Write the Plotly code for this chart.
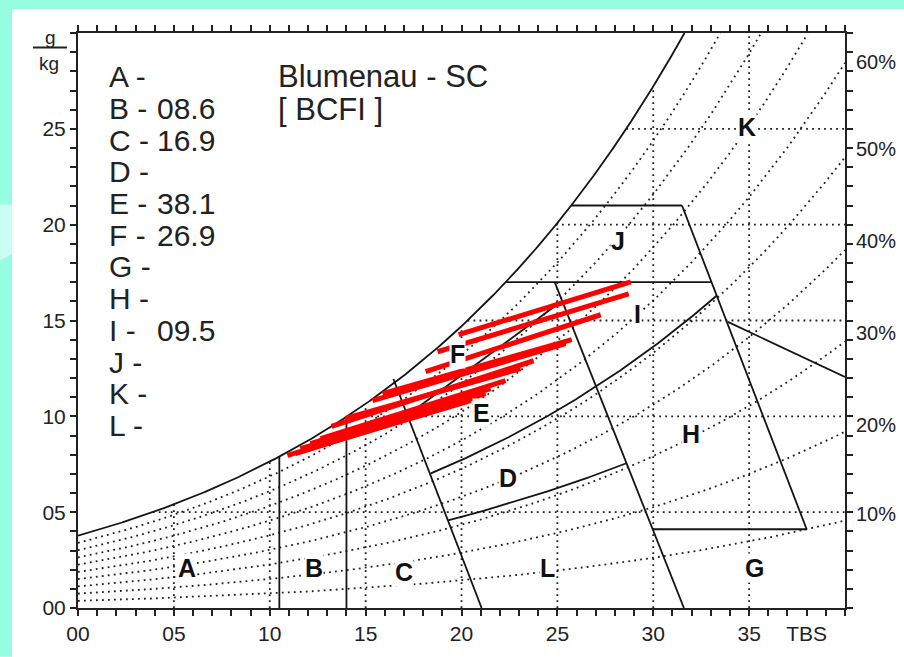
import numpy as np
import plotly.graph_objects as go

# ---------------- data ----------------
# saturation vapour pressure table (kPa) at 0..40 degC (psychrometric frame)
t_table = list(range(0, 41))
ps_table = [0.6112, 0.6571, 0.7060, 0.7581, 0.8135, 0.8725, 0.9353, 1.0021, 1.0730, 1.1482,
            1.2282, 1.3129, 1.4028, 1.4981, 1.5989, 1.7057, 1.8188, 1.9383, 2.0647, 2.1982,
            2.3392, 2.4881, 2.6452, 2.8109, 2.9856, 3.1697, 3.3637, 3.5679, 3.7828, 4.0089,
            4.2467, 4.4966, 4.7592, 5.0351, 5.3247, 5.6287, 5.9475, 6.2818, 6.6324, 6.9997,
            7.3844]
rh_curves = [0.1, 0.2, 0.3, 0.4, 0.5, 0.6, 0.7, 0.8, 0.9]
rh_labels = ["10%", "20%", "30%", "40%", "50%", "60%"]
rh_label_y = [4.89, 9.57, 14.36, 19.16, 23.93, 28.49]

x_tick_vals = list(range(0, 41))
x_tick_text = {0: "00", 5: "05", 10: "10", 15: "15", 20: "20", 25: "25", 30: "30", 35: "35", 38: "TBS"}
y_tick_vals = list(range(0, 31))
y_tick_text = {0: "00", 5: "05", 10: "10", 15: "15", 20: "20", 25: "25"}

# monthly red lines (TBS degC, humidity g/kg)
line_t0 = [19.85, 18.75, 18.13, 15.88, 15.36, 13.22, 13.95, 12.12, 11.60, 10.92, 11.34, 12.65]
line_w0 = [14.26, 13.37, 12.33, 11.19, 10.82, 9.47, 9.89, 8.58, 8.32, 7.96, 8.06, 8.84]
line_t1 = [28.83, 28.72, 27.26, 25.75, 25.43, 23.76, 23.08, 21.52, 21.26, 20.48, 20.89, 22.30]
line_w1 = [17.01, 16.39, 15.30, 14.00, 13.79, 12.90, 12.49, 11.45, 11.19, 10.82, 11.03, 11.86]

zone_letters = ["A", "B", "C", "D", "E", "F", "G", "H", "I", "J", "K", "L"]
zone_pct = ["", "08.6", "16.9", "", "38.1", "26.9", "", "", "09.5", "", "", ""]
zone_lx = [5.70, 12.33, 16.98, 22.41, 21.05, 19.80, 35.30, 31.96, 29.19, 28.15, 34.88, 24.50]
zone_ly = [2.08, 2.08, 1.87, 6.79, 10.20, 13.27, 2.08, 9.10, 15.35, 19.15, 25.08, 2.08]

# zone boundary geometry (degC, g/kg)
ab_t, bc_t = 10.5, 14.0
line4 = [(21.05, 0.0), (16.45, 11.95)]
line9 = [(31.60, 0.0), (24.86, 17.0)]
line8 = [(31.50, 21.0), (38.00, 4.11)]
j_bottom_w, j_top_w = 17.0, 21.0
kh_line = [(33.89, 14.93), (40.0, 12.05)]
g_top_w = 4.11
ef_line = [(17.17, 10.06), (25.27, 16.04)]
de_rh_t, de_rh_v = [18.4, 33.3], [0.534, 0.505]
dl_rh_t, dl_rh_v = [19.4, 28.7], [0.33, 0.31]

title_lines = ["Blumenau - SC", "[ BCFI ]"]

# ---------------- helpers ----------------
P = 101.325
T = np.linspace(0, 40, 801)
PS = np.interp(T, t_table, ps_table)


def w_of(rh):
    pv = rh * PS
    return 622.0 * pv / (P - pv)


WS = w_of(1.0)


def t_sat(w):
    return float(np.interp(w, WS, T))


def lin_t(line, w):
    (ta, wa), (tb, wb) = line
    return ta + (tb - ta) * (w - wa) / (wb - wa)


BLACK = "#141414"
DOT = dict(color="#1e1e1e", width=1.8, dash="1.8px,4.2px")
SOLID = dict(color=BLACK, width=1.8)

fig = go.Figure()


def add(xs, ys, line):
    fig.add_trace(go.Scatter(x=list(xs), y=list(ys), mode="lines", line=line,
                             hoverinfo="skip", showlegend=False))


# dotted grid (below saturation curve)
for tv in range(5, 40, 5):
    add([tv, tv], [0, min(30, float(np.interp(tv, T, WS)))], DOT)
for wv in range(5, 30, 5):
    add([t_sat(wv), 40], [wv, wv], DOT)

# RH dotted curves
for rh in rh_curves:
    w = w_of(rh)
    m = w <= 30
    add(T[m], w[m], DOT)

# saturation curve
m = WS <= 30
xs = list(T[m]) + [t_sat(30)]
ys = list(WS[m]) + [30]
add(xs, ys, SOLID)

# zone boundaries
add([ab_t, ab_t], [0, float(np.interp(ab_t, T, WS))], SOLID)
add([bc_t, bc_t], [0, float(np.interp(bc_t, T, WS))], SOLID)
add([p[0] for p in line4], [p[1] for p in line4], SOLID)
add([p[0] for p in line9], [p[1] for p in line9], SOLID)
add([p[0] for p in line8], [p[1] for p in line8], SOLID)
add([t_sat(j_bottom_w), lin_t(line8, j_bottom_w)], [j_bottom_w, j_bottom_w], SOLID)
add([t_sat(j_top_w), lin_t(line8, j_top_w)], [j_top_w, j_top_w], SOLID)
add([p[0] for p in kh_line], [p[1] for p in kh_line], SOLID)
add([lin_t(line9, g_top_w), lin_t(line8, g_top_w)], [g_top_w, g_top_w], SOLID)
add([p[0] for p in ef_line], [p[1] for p in ef_line], SOLID)
wde = w_of(np.interp(T, de_rh_t, de_rh_v))
mk = (T >= np.array([lin_t(line4, v) for v in wde])) & (T <= np.array([lin_t(line8, v) for v in wde]))
add(T[mk], wde[mk], SOLID)
wdl = w_of(np.interp(T, dl_rh_t, dl_rh_v))
mk = (T >= np.array([lin_t(line4, v) for v in wdl])) & (T <= np.array([lin_t(line9, v) for v in wdl]))
add(T[mk], wdl[mk], SOLID)

# red monthly lines
for a, b, c, d in zip(line_t0, line_w0, line_t1, line_w1):
    add([a, c], [b, d], dict(color="#ff0000", width=5))

FONT = "Liberation Sans, Arial, sans-serif"
ann = []
for L, x, y in zip(zone_letters, zone_lx, zone_ly):
    ann.append(dict(x=x, y=y, xref="x", yref="y", xanchor="center", yanchor="middle",
                    text="<b>%s</b>" % L, showarrow=False,
                    font=dict(family=FONT, size=25, color="#111"), bgcolor="white", borderpad=0))

# left legend
PL, PT, PW, PH = 78, 33, 767, 577


def px(xp):
    return (xp - PL) / PW


def py(yp):
    return (PT + PH - yp) / PH


for i, (L, v) in enumerate(zip(zone_letters, zone_pct)):
    yy = 77 + i * 31.8
    ann.append(dict(x=px(107), y=py(yy), xref="paper", yref="paper", xanchor="left", yanchor="middle",
                    text=L + " -", showarrow=False, font=dict(family=FONT, size=30, color="#222")))
    if v:
        ann.append(dict(x=px(155), y=py(yy), xref="paper", yref="paper", xanchor="left", yanchor="middle",
                        text=v, showarrow=False, font=dict(family=FONT, size=30, color="#222")))
for i, t in enumerate(title_lines):
    ann.append(dict(x=px(276), y=py(77 + i * 33), xref="paper", yref="paper", xanchor="left", yanchor="middle",
                    text=t, showarrow=False, font=dict(family=FONT, size=31, color="#222")))
for lab, yv in zip(rh_labels, rh_label_y):
    ann.append(dict(x=1, y=yv, xref="paper", yref="y", xanchor="left", yanchor="middle", xshift=9,
                    text=lab, showarrow=False, font=dict(family=FONT, size=20, color="#222")))
ann.append(dict(x=px(50), y=py(38), xref="paper", yref="paper", xanchor="center", yanchor="middle",
                text="g", showarrow=False, font=dict(family=FONT, size=19, color="#222")))
ann.append(dict(x=px(49), y=py(64), xref="paper", yref="paper", xanchor="center", yanchor="middle",
                text="kg", showarrow=False, font=dict(family=FONT, size=19, color="#222")))

AQUA = "#96fde0"
shapes = [
    dict(type="rect", xref="paper", yref="paper", x0=px(-2), x1=px(906), y0=py(9), y1=py(-2),
         fillcolor=AQUA, line=dict(width=0), layer="below"),
    dict(type="rect", xref="paper", yref="paper", x0=px(-2), x1=px(12), y0=py(659), y1=py(-2),
         fillcolor=AQUA, line=dict(width=0), layer="below"),
    dict(type="path", xref="paper", yref="paper",
         path="M %f,%f L %f,%f L %f,%f L %f,%f Z" % (px(-2), py(205), px(12), py(205),
                                                   px(12), py(255), px(-2), py(262)),
         fillcolor="#c9fff2", line=dict(width=0), layer="below"),
    dict(type="line", xref="paper", yref="paper", x0=px(33), x1=px(67), y0=py(47.5), y1=py(47.5),
         line=dict(color="#222", width=2)),
]

fig.update_layout(
    width=904, height=657,
    margin=dict(l=PL, r=904 - PL - PW, t=PT, b=657 - PT - PH),
    paper_bgcolor="white", plot_bgcolor="white",
    annotations=ann, shapes=shapes,
    font=dict(family=FONT, color="#222"),
)
fig.update_xaxes(range=[0, 40], tickmode="array", tickvals=x_tick_vals,
                 ticktext=[x_tick_text.get(v, "") for v in x_tick_vals],
                 ticks="outside", ticklen=6, tickwidth=2, tickcolor="#222",
                 showline=True, linewidth=2, linecolor="#222", mirror="ticks",
                 showgrid=False, zeroline=False, tickfont=dict(size=21, family=FONT, color="#222"))
fig.update_yaxes(range=[0, 30], tickmode="array", tickvals=y_tick_vals,
                 ticktext=[y_tick_text.get(v, "") for v in y_tick_vals],
                 ticks="outside", ticklen=6, tickwidth=2, tickcolor="#222",
                 showline=True, linewidth=2, linecolor="#222", mirror="ticks",
                 showgrid=False, zeroline=False, tickfont=dict(size=21, family=FONT, color="#222"))

fig.write_html("out.html", config={"displayModeBar": False},
               post_script="document.body.style.margin='0px';document.body.style.overflow='hidden';")
